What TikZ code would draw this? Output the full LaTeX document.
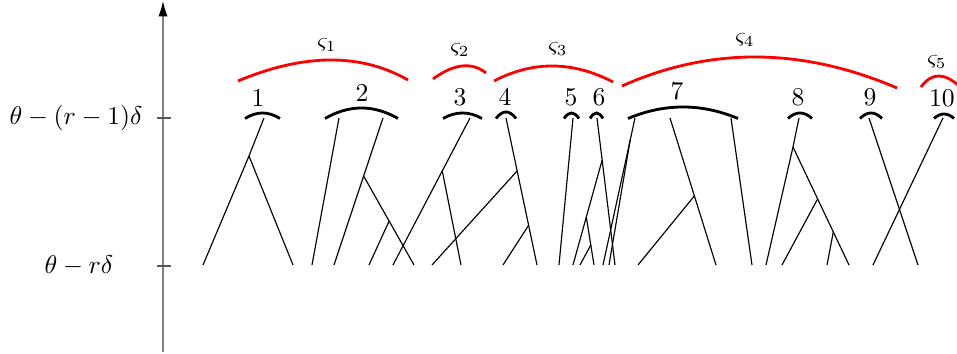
\documentclass[tikz,border=0pt]{standalone}
\usepackage{amsmath,amssymb}
\usepackage{tikz}
\usetikzlibrary{arrows.meta,calc}
\usepackage{xcolor}
\definecolor{axisgray}{HTML}{7F7F7F}
\definecolor{clusterred}{HTML}{FF0000}

\begin{document}
\begin{tikzpicture}[x=0.39pt, y=-0.39pt, >=Latex,
  lineage/.style={black, line width=0.45pt},
  ancestor/.style={black, line width=1.1pt},
  cluster/.style={clusterred, line width=1.1pt}]
  \useasboundingbox (0,0) rectangle (957,354);
  % time axis
  \coordinate (axbot) at (163,352);
  \coordinate (axtop) at (163,1);
  \draw[axisgray, line width=0.6pt, -{Latex[color=black, length=6pt, width=3.6pt]}] (axbot) -- (axtop);
  \coordinate (tickhi) at (163,118);
  \coordinate (ticklo) at (163,266);
  \draw[axisgray!70!black, line width=0.5pt] (tickhi) ++(-6,0) -- ++(14,0);
  \draw[axisgray!70!black, line width=0.5pt] (ticklo) ++(-6,0) -- ++(14,0);
  \node (lvlhi) at (76,118) {$\theta-(r-1)\delta$};
  \node (lvllo) at (79,266) {$\theta-r\delta$};

  % ancestors at the upper level
  \foreach \n/\x in {1/264, 2a/339, 2b/383, 3/470, 4/506, 5/573, 6/597,
                     7a/635, 7b/670, 7c/731, 8/799, 9/869, 10/943}
    \coordinate (p\n) at (\x,118);
  % particles at the lower level
  \foreach \n/\x in {1/203, 2/293, 3/312, 4/334, 5/369, 6/393, 7/414, 8/432, 9/461,
                     10/503, 11/537, 12/559, 13/573, 14/580, 15/594, 16/603, 17/609,
                     18/615, 19/638, 20/716, 21/752, 22/766, 23/782, 24/827, 25/849,
                     26/873, 27/918}
    \coordinate (e\n) at (\x,265);

  % branch points
  \coordinate (s1) at (249,156);
  \coordinate (s2) at ($(p2b)!0.395!(e4)$);
  \coordinate (s2b) at ($(s2)!0.506!(e7)$);
  \coordinate (s3) at ($(p3)!0.36!(e6)$);
  \coordinate (s4) at ($(p4)!0.36!(e11)$);
  \coordinate (s4b) at ($(p4)!0.73!(e11)$);
  \coordinate (s6) at ($(p6)!0.286!(e18)$);
  \coordinate (s6b) at ($(s6)!0.543!(e13)$);
  \coordinate (s6c) at ($(s6b)!0.583!(e15)$);
  \coordinate (s7) at ($(p7a)!0.15!(e16)$);
  \coordinate (s7b) at ($(p7b)!0.53!(e20)$);
  \coordinate (s8) at (793,147);
  \coordinate (s8b) at ($(s8)!0.44!(e25)$);
  \coordinate (s8c) at ($(s8)!0.72!(e25)$);

  % genealogy
  \draw[lineage] (p1) -- (s1) -- (e1);
  \draw[lineage] (s1) -- (e2);
  \draw[lineage] (p2a) -- (e3);
  \draw[lineage] (p2b) -- (e4);
  \draw[lineage] (s2) -- (e7);
  \draw[lineage] (s2b) -- (e5);
  \draw[lineage] (p3) -- (e6);
  \draw[lineage] (s3) -- (e9);
  \draw[lineage] (p4) -- (e11);
  \draw[lineage] (s4) -- (e8);
  \draw[lineage] (s4b) -- (e10);
  \draw[lineage] (p5) -- (e12);
  \draw[lineage] (p6) -- (e18);
  \draw[lineage] (s6) -- (e13);
  \draw[lineage] (s6b) -- (e15);
  \draw[lineage] (s6c) -- (e14);
  \draw[lineage] (p7a) -- (e16);
  \draw[lineage] (s7) -- (e17);
  \draw[lineage] (p7b) -- (e20);
  \draw[lineage] (s7b) -- (e19);
  \draw[lineage] (p7c) -- (e21);
  \draw[lineage] (p8) -- (s8) -- (e22);
  \draw[lineage] (s8) -- (e25);
  \draw[lineage] (s8b) -- (e23);
  \draw[lineage] (s8c) -- (e24);
  \draw[lineage] (p9) -- (e27);
  \draw[lineage] (p10) -- (e26);

  % ancestor caps with their numbers
  \foreach \xa/\xb/\pk/\lx/\lab in {245/280/113/258/1, 325/398/108/362/2, 443/482/113/460/3,
      496/516/112/505/4, 564/579/113/571/5, 590/603/113/599/6, 628/738/107/677/7,
      788/812/113/798/8, 860/882/113/870/9, 934/954/114/942/10}{
    \draw[ancestor] (\xa,118.5) .. controls ({\xa+(\xb-\xa)/3},{118.5-4/3*(118.5-\pk)})
      and ({\xb-(\xb-\xa)/3},{118.5-4/3*(118.5-\pk)}) .. (\xb,118.5);
    \node[above, inner sep=2.5pt] (n\lab) at (\lx,\pk) {\lab};
  }

  % clusters
  \foreach \ax/\ay/\qx/\qy/\bx/\by in {238/81/337/39.5/408/80, 433/79/464.5/56/486/73,
      494/81/552.5/50.5/613/82, 622/86/754.5/27/897/88, 921/87/937/65/960/87}
    \draw[cluster] (\ax,\ay) .. controls ($(\ax,\ay)!2/3!(\qx,\qy)$)
      and ($(\bx,\by)!2/3!(\qx,\qy)$) .. (\bx,\by);
  \node[font=\small] (c1) at (327,45) {$\varsigma_1$};
  \node[font=\small] (c2) at (460,50) {$\varsigma_2$};
  \node[font=\small] (c3) at (558,49) {$\varsigma_3$};
  \node[font=\small] (c4) at (745,40) {$\varsigma_4$};
  \node[font=\small] (c5) at (937,62) {$\varsigma_5$};
\end{tikzpicture}
\end{document}
